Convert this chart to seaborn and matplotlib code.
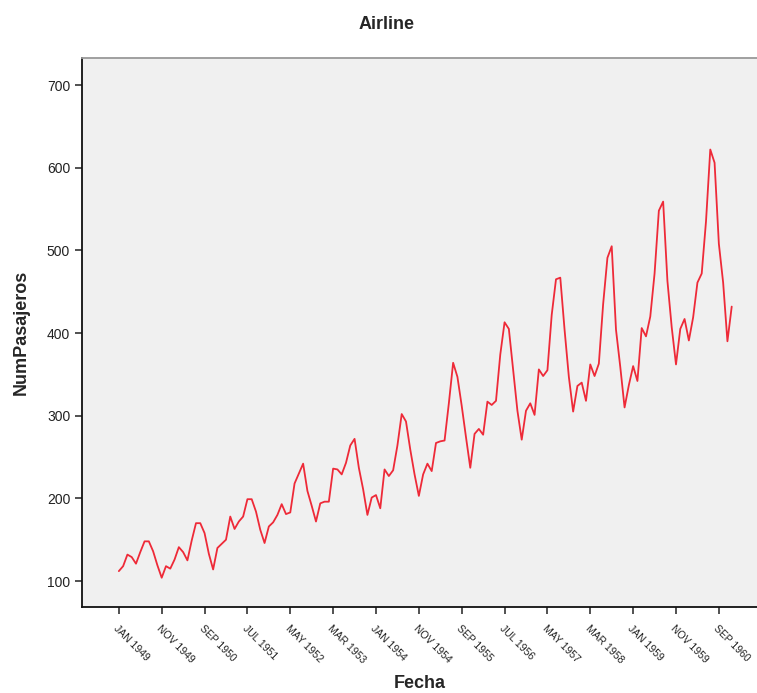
import numpy as np
import pandas as pd
import seaborn as sns
import matplotlib.pyplot as plt

# monthly passengers (thousands), Jan 1949 - Dec 1960
years = list(range(1949, 1961))
passengers = [
    112, 118, 132, 129, 121, 135, 148, 148, 136, 119, 104, 118,
    115, 126, 141, 135, 125, 149, 170, 170, 158, 133, 114, 140,
    145, 150, 178, 163, 172, 178, 199, 199, 184, 162, 146, 166,
    171, 180, 193, 181, 183, 218, 230, 242, 209, 191, 172, 194,
    196, 196, 236, 235, 229, 243, 264, 272, 237, 211, 180, 201,
    204, 188, 235, 227, 234, 264, 302, 293, 259, 229, 203, 229,
    242, 233, 267, 269, 270, 315, 364, 347, 312, 274, 237, 278,
    284, 277, 317, 313, 318, 374, 413, 405, 355, 306, 271, 306,
    315, 301, 356, 348, 355, 422, 465, 467, 404, 347, 305, 336,
    340, 318, 362, 348, 363, 435, 491, 505, 404, 359, 310, 337,
    360, 342, 406, 396, 420, 472, 548, 559, 463, 407, 362, 405,
    417, 391, 419, 461, 472, 535, 622, 606, 508, 461, 390, 432,
]
tick_labels = ["JAN 1949", "NOV 1949", "SEP 1950", "JUL 1951", "MAY 1952",
               "MAR 1953", "JAN 1954", "NOV 1954", "SEP 1955", "JUL 1956",
               "MAY 1957", "MAR 1958", "JAN 1959", "NOV 1959", "SEP 1960"]
y_ticks = [100, 200, 300, 400, 500, 600, 700]

df = pd.DataFrame({"idx": np.arange(len(passengers)), "NumPasajeros": passengers})

sns.set_style("white")
plt.rcParams['font.family'] = ['Liberation Sans', 'DejaVu Sans']

fig = plt.figure(figsize=(7.57, 6.93), dpi=100)
ax = fig.add_axes([0.1083, 0.1241, 0.8917, 0.7922])
ax.set_facecolor("#f0f0f0")

sns.lineplot(data=df, x="idx", y="NumPasajeros", ax=ax, color="#ee2a38", linewidth=1.3)

ax.set_xlim(-8.6, 148.9)
ax.set_ylim(68.6, 732.7)
ax.set_xticks(np.arange(0, 141, 10))
ax.set_xticklabels(tick_labels, rotation=-45, ha="left", va="top",
                   rotation_mode="anchor", fontsize=7.5, color="#222222")
ax.set_yticks(y_ticks)
ax.set_yticklabels([str(v) for v in y_ticks], fontsize=10, color="#222222")
ax.tick_params(axis="both", direction="out", length=5, width=1.2, color="#333333",
               bottom=True, left=True)
ax.tick_params(axis="x", pad=7)

for side in ["left", "bottom"]:
    ax.spines[side].set_color("#111111")
    ax.spines[side].set_linewidth(1.3)
ax.spines["top"].set_color("#999999")
ax.spines["top"].set_linewidth(1.3)
ax.spines["right"].set_visible(False)

ax.set_xlabel("Fecha", fontsize=13, fontweight="bold")
ax.xaxis.set_label_coords(0.5, -0.123)
ax.set_ylabel("NumPasajeros", fontsize=13, fontweight="bold", labelpad=12)
fig.text(0.51, 0.965, "Airline", ha="center", va="center", fontsize=13, fontweight="bold")

plt.savefig("out.png", dpi=100)
